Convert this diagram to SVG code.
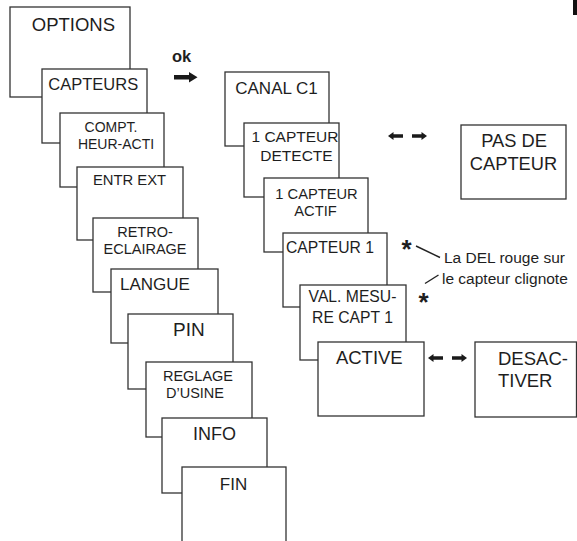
<svg xmlns="http://www.w3.org/2000/svg" width="577" height="541" viewBox="0 0 577 541">
<style>
.box{fill:#fff;stroke:#333;stroke-width:1.3}
text{font-family:"Liberation Sans",Arial,Helvetica,sans-serif;fill:#1e1e1e}
.c{text-anchor:middle}
.lead{stroke:#222;stroke-width:1.4;fill:none}
.arr{fill:#1a1a1a}
</style>
<rect x="0" y="0" width="577" height="541" fill="#fff"/>
<rect x="573" y="0" width="4" height="15" fill="#111"/>
<g id="options"><rect class="box" x="10" y="7" width="120" height="90"/><text class="c" x="73.4" y="31" font-size="18.5">OPTIONS</text></g>
<g id="capteurs"><rect class="box" x="42" y="69" width="105" height="74"/><text class="c" x="93.3" y="90" font-size="16.5">CAPTEURS</text></g>
<g id="compt"><rect class="box" x="60" y="113" width="104" height="74"/><text class="c" x="111" y="132" font-size="14">COMPT.</text><text class="c" x="116" y="149" font-size="14">HEUR-ACTI</text></g>
<g id="entr"><rect class="box" x="77" y="167" width="106" height="73"/><text class="c" x="129.5" y="185" font-size="14.8">ENTR EXT</text></g>
<g id="retro"><rect class="box" x="93" y="218" width="105" height="74"/><text class="c" x="145" y="237" font-size="14.5">RETRO-</text><text class="c" x="145" y="254" font-size="14.5">ECLAIRAGE</text></g>
<g id="langue"><rect class="box" x="111" y="269" width="107" height="74"/><text class="c" x="155" y="290" font-size="17">LANGUE</text></g>
<g id="pin"><rect class="box" x="128" y="314" width="105" height="75"/><text x="173" y="336" font-size="19">PIN</text></g>
<g id="reglage"><rect class="box" x="146" y="362" width="106" height="75"/><text class="c" x="198" y="381" font-size="14.5">REGLAGE</text><text class="c" x="195" y="398" font-size="14.5">D’USINE</text></g>
<g id="info"><rect class="box" x="162" y="418" width="105" height="75"/><text class="c" x="214.5" y="440" font-size="18">INFO</text></g>
<g id="fin"><rect class="box" x="182" y="467" width="104" height="90"/><text class="c" x="233.5" y="490" font-size="17">FIN</text></g>
<g id="ok"><text x="172" y="62" font-size="16.5" font-weight="bold">ok</text></g>
<g id="canal"><rect class="box" x="225" y="72" width="104" height="74"/><text class="c" x="276.5" y="94" font-size="17">CANAL C1</text></g>
<g id="detecte"><rect class="box" x="244" y="123" width="95" height="74"/><text class="c" x="295" y="142" font-size="15.5">1 CAPTEUR</text><text class="c" x="296.5" y="161" font-size="15.5">DETECTE</text></g>
<g id="actif"><rect class="box" x="264" y="178" width="104" height="74"/><text class="c" x="316.5" y="199" font-size="14.7">1 CAPTEUR</text><text class="c" x="315.5" y="216" font-size="14.7">ACTIF</text></g>
<g id="capteur1"><rect class="box" x="283" y="233" width="104" height="74"/><text class="c" x="330" y="253" font-size="15.7">CAPTEUR 1</text></g>
<g id="valmesure"><rect class="box" x="300" y="285" width="106" height="75"/><text class="c" x="352.5" y="302" font-size="15.7">VAL. MESU-</text><text class="c" x="352.5" y="323" font-size="15.7">RE CAPT 1</text></g>
<g id="active"><rect class="box" x="318" y="342" width="106" height="74"/><text class="c" x="369.3" y="364" font-size="18.5">ACTIVE</text></g>
<g id="pasdecapteur"><rect class="box" x="461" y="125" width="105" height="74"/><text class="c" x="514" y="147" font-size="18.3">PAS DE</text><text class="c" x="513.5" y="170" font-size="18.3">CAPTEUR</text></g>
<g id="desactiver"><rect class="box" x="475" y="342" width="101.5" height="75"/><text x="498" y="365" font-size="18.5">DESAC-</text><text x="498" y="387" font-size="18.5">TIVER</text></g>
<g id="connectors">
<polygon class="arr" points="174,75 189,75 189,72 197.5,77.3 189,82.5 189,79.6 174,79.6"/>
<polygon class="arr" points="388,136 393.5,132 393.5,134.2 403,134.2 403,137.8 393.5,137.8 393.5,140"/>
<polygon class="arr" points="427,136 421.5,132 421.5,134.2 412,134.2 412,137.8 421.5,137.8 421.5,140"/>
<polygon class="arr" points="428,358 433.5,354 433.5,356.2 443,356.2 443,359.8 433.5,359.8 433.5,362"/>
<polygon class="arr" points="467,358 461.5,354 461.5,356.2 452,356.2 452,359.8 461.5,359.8 461.5,362"/>
</g>
<g id="annotation">
<text x="401.5" y="258" font-size="26" font-weight="bold">*</text>
<text x="418.5" y="311" font-size="26" font-weight="bold">*</text>
<line class="lead" x1="416" y1="246" x2="440" y2="257.5"/>
<line class="lead" x1="425" y1="283.5" x2="438.5" y2="275"/>
<text x="444" y="263" font-size="15.5">La DEL rouge sur</text>
<text x="442" y="284" font-size="15.5">le capteur clignote</text>
</g>
</svg>
